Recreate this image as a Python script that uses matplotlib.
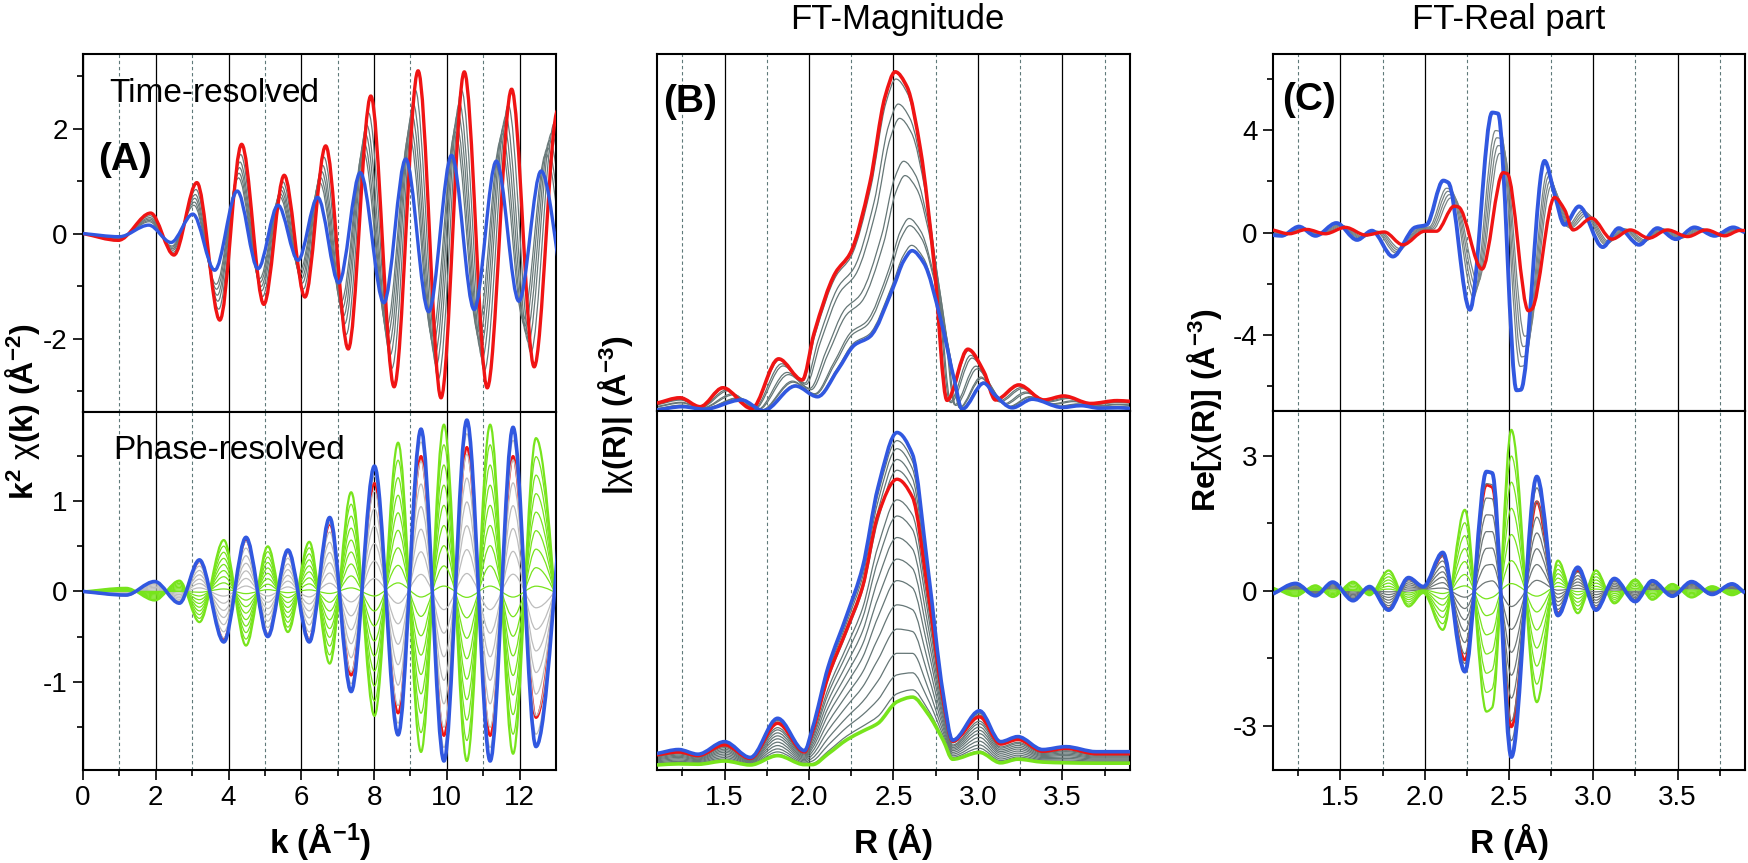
import numpy as np
import matplotlib
matplotlib.use("Agg")
import matplotlib.pyplot as plt
from matplotlib.path import Path
from matplotlib.patches import PathPatch

plt.rcParams['font.family'] = ['Liberation Sans', 'DejaVu Sans']
plt.rcParams['mathtext.fontset'] = 'custom'
plt.rcParams['mathtext.rm'] = 'Liberation Sans'
plt.rcParams['mathtext.bf'] = 'Liberation Sans:bold'
plt.rcParams['mathtext.it'] = 'Liberation Sans:italic'
plt.rcParams['axes.unicode_minus'] = False

RED = '#f01414'
BLUE = '#3158e0'
GREEN = '#77e41c'

# ---- (A) time-resolved k^2 chi(k): extrema ----
a_red_k = [0, 0.97, 1.86, 2.50, 3.13, 3.76, 4.36, 4.97, 5.53, 6.10, 6.67, 7.29,
           7.91, 8.55, 9.21, 9.84, 10.48, 11.11, 11.78, 12.40, 13.05, 13.68]
a_red_v = [0, -0.13, 0.39, -0.41, 0.97, -1.65, 1.70, -1.35, 1.11, -1.21, 1.67, -2.20,
           2.62, -2.92, 3.10, -3.13, 3.08, -2.94, 2.75, -2.54, 2.35, -2.30]
a_blue_k = [0, 1.0, 1.81, 2.42, 3.02, 3.62, 4.24, 4.81, 5.36, 5.91, 6.45, 7.03,
            7.62, 8.27, 8.87, 9.50, 10.13, 10.75, 11.36, 11.98, 12.59, 13.2]
a_blue_v = [0, -0.06, 0.16, -0.17, 0.37, -0.70, 0.81, -0.67, 0.54, -0.51, 0.69, -0.94,
            1.16, -1.32, 1.42, -1.49, 1.49, -1.45, 1.38, -1.29, 1.19, -1.15]
a_gray_w = [0.78, 0.62, 0.50, 0.38, 0.28]   # position of grey curves between blue and red

# ---- (A) phase-resolved ----
ap_k = [0, 1.18, 1.97, 2.65, 3.20, 3.87, 4.48, 5.08, 5.63, 6.22, 6.78, 7.37,
        8.01, 8.66, 9.29, 9.92, 10.55, 11.19, 11.82, 12.45, 13.3]
ap_blue = [0, -0.04, 0.11, -0.13, 0.35, -0.56, 0.60, -0.50, 0.46, -0.56, 0.82, -1.11,
           1.39, -1.59, 1.80, -1.88, 1.90, -1.88, 1.82, -1.72, 1.70]
ap_red = [0, -0.04, 0.10, -0.12, 0.33, -0.53, 0.57, -0.48, 0.44, -0.53, 0.75, -0.93,
          1.20, -1.35, 1.50, -1.60, 1.60, -1.60, 1.50, -1.40, 1.45]
ap_green = [0, 0.04, -0.10, 0.12, -0.34, 0.57, -0.60, 0.50, -0.45, 0.55, -0.80, 1.10,
            -1.38, 1.65, -1.78, 1.85, -1.88, 1.85, -1.80, 1.70, -1.70]
ap_green_w = [1.0, 0.94, 0.88, 0.82, 0.76, 0.70, 0.64, 0.58, 0.52]
ap_gray_w = [0.45, 0.38, 0.31, 0.24, 0.17, 0.10, 0.04]

# ---- (B) |chi(R)|, time-resolved ----
b_red_r = [1.10, 1.236, 1.355, 1.49, 1.66, 1.82, 1.96, 2.03, 2.155, 2.244, 2.36, 2.45, 2.51,
           2.58, 2.66, 2.74, 2.817, 2.94, 3.035, 3.104, 3.242, 3.39, 3.508, 3.667, 3.825, 3.90]
b_red_v = [0.22, 0.37, 0.12, 0.65, 0.07, 1.46, 0.87, 2.18, 3.86, 4.42, 6.38, 8.80, 9.50,
           9.08, 7.31, 4.14, 0.30, 1.73, 1.10, 0.31, 0.73, 0.31, 0.42, 0.21, 0.29, 0.27]
b_blue_r = [1.10, 1.25, 1.38, 1.60, 1.73, 1.92, 2.05, 2.17, 2.27, 2.36, 2.50, 2.56, 2.61,
            2.68, 2.78, 2.86, 2.906, 3.035, 3.10, 3.203, 3.321, 3.499, 3.61, 3.72, 3.83, 3.90]
b_blue_v = [0.03, 0.12, 0.05, 0.31, 0.01, 0.70, 0.40, 1.15, 1.85, 2.08, 3.48, 4.20, 4.49,
            4.14, 2.55, 0.87, 0.05, 0.78, 0.45, 0.09, 0.33, 0.10, 0.15, 0.08, 0.09, 0.07]
b_gray_w = [0.04, 0.18, 0.26, 0.50, 0.58, 0.82, 0.86, 0.97]

# ---- (B) |chi(R)|, phase-resolved ----
bp_r = [1.10, 1.228, 1.342, 1.50, 1.652, 1.814, 1.973, 2.02, 2.113, 2.226, 2.317, 2.408,
        2.521, 2.612, 2.703, 2.794, 2.85, 3.009, 3.134, 3.236, 3.383, 3.52, 3.70, 3.90]
bp_blue = [0.46, 0.57, 0.44, 0.79, 0.35, 1.44, 0.54, 1.16, 2.87, 4.35, 5.65, 7.87,
           9.40, 8.80, 5.65, 2.13, 0.83, 1.65, 0.79, 0.93, 0.57, 0.65, 0.51, 0.51]
bp_red = [0.42, 0.50, 0.40, 0.70, 0.32, 1.30, 0.50, 1.05, 2.60, 3.95, 5.10, 7.10,
          8.10, 7.60, 5.00, 1.95, 0.80, 1.48, 0.72, 0.85, 0.52, 0.60, 0.45, 0.45]
bp_green = [0.14, 0.17, 0.16, 0.25, 0.14, 0.40, 0.15, 0.15, 0.45, 0.85, 1.08, 1.30,
            1.90, 2.03, 1.57, 0.83, 0.30, 0.49, 0.20, 0.30, 0.22, 0.20, 0.19, 0.19]
bp_gray_w = [0.97, 0.94, 0.90, 0.86, 0.75, 0.69, 0.61, 0.53, 0.45, 0.36, 0.27, 0.18, 0.10, 0.03]

# ---- (C) Re[chi(R)], time-resolved ----
c_blue_r = [1.10, 1.15, 1.254, 1.352, 1.476, 1.599, 1.687, 1.811, 1.943, 2.011, 2.110, 2.140,
            2.268, 2.400, 2.435, 2.545, 2.570, 2.711, 2.770, 2.829, 2.915, 3.056, 3.151,
            3.272, 3.380, 3.490, 3.600, 3.720, 3.830, 3.90]
c_blue_v = [-0.10, -0.13, 0.23, -0.13, 0.37, -0.29, 0.07, -0.94, 0.20, 0.30, 2.03, 1.95,
            -3.02, 4.69, 4.65, -6.17, -6.15, 2.80, 1.50, 0.30, 1.02, -0.57, 0.17,
            -0.48, 0.17, -0.26, 0.20, -0.13, 0.20, 0.0]
c_red_r = [1.10, 1.195, 1.30, 1.41, 1.53, 1.65, 1.76, 1.87, 2.00, 2.07, 2.175, 2.20,
           2.34, 2.465, 2.49, 2.615, 2.635, 2.77, 2.83, 2.88, 2.99, 3.11, 3.22,
           3.33, 3.44, 3.56, 3.67, 3.78, 3.87, 3.90]
c_red_v = [0.10, -0.05, 0.12, -0.05, 0.20, -0.10, 0.02, -0.48, 0.05, 0.05, 1.03, 1.00,
           -1.43, 2.34, 2.30, -3.06, -3.00, 1.37, 0.89, 0.10, 0.56, -0.26, 0.10,
           -0.22, 0.10, -0.16, 0.10, -0.13, 0.08, 0.08]
c_gray_w = [0.30, 0.42, 0.55, 0.68]

# ---- (C) Re[chi(R)], phase-resolved ----
cp_r = [1.10, 1.234, 1.352, 1.454, 1.575, 1.673, 1.786, 1.904, 1.992, 2.107, 2.238, 2.366,
        2.40, 2.514, 2.665, 2.79, 2.908, 3.016, 3.125, 3.249, 3.35, 3.469, 3.583, 3.705,
        3.823, 3.90]
cp_blue = [-0.07, 0.16, -0.11, 0.19, -0.22, 0.09, -0.43, 0.29, 0.09, 0.85, -1.80, 2.65,
           2.62, -3.70, 2.54, -0.55, 0.52, -0.43, 0.27, -0.24, 0.22, -0.12, 0.20, -0.08,
           0.15, -0.05]
cp_red = [-0.07, 0.15, -0.10, 0.18, -0.20, 0.08, -0.40, 0.27, 0.08, 0.78, -1.54, 2.35,
          2.30, -3.03, 1.98, -0.50, 0.45, -0.40, 0.25, -0.22, 0.20, -0.11, 0.18, -0.08,
          0.14, -0.05]
cp_green = [0.07, -0.12, 0.12, -0.14, 0.20, -0.10, 0.45, -0.35, -0.05, -0.87, 1.80, -2.69,
            -2.60, 3.58, -2.48, 0.67, -0.50, 0.45, -0.28, 0.25, -0.20, 0.15, -0.15, 0.10,
            -0.10, 0.03]
cp_green_w = [1.0, 0.92, 0.84, 0.76, 0.68, 0.60, 0.53]
cp_gray_w = [0.46, 0.39, 0.32, 0.25, 0.18, 0.11, 0.05]

k_major = [0, 2, 4, 6, 8, 10, 12]
k_minor = [1, 3, 5, 7, 9, 11]
r_major = [1.5, 2.0, 2.5, 3.0, 3.5]
r_minor = [1.25, 1.75, 2.25, 2.75, 3.25, 3.75]
r_labels = ['1.5', '2.0', '2.5', '3.0', '3.5']


def smooth(ax, x, y, color, lw, zorder=2):
    # monotone cubic through the read points, drawn as a Bezier path
    x = np.asarray(x, float)
    y = np.asarray(y, float)
    h = np.diff(x)
    d = np.diff(y) / h
    m = np.zeros_like(x)
    m[0], m[-1] = d[0], d[-1]
    for i in range(1, len(x) - 1):
        if d[i - 1] * d[i] > 0:
            w1 = 2 * h[i] + h[i - 1]
            w2 = h[i] + 2 * h[i - 1]
            m[i] = (w1 + w2) / (w1 / d[i - 1] + w2 / d[i])
    verts = [(x[0], y[0])]
    for i in range(len(x) - 1):
        verts += [(x[i] + h[i] / 3, y[i] + m[i] * h[i] / 3),
                  (x[i + 1] - h[i] / 3, y[i + 1] - m[i + 1] * h[i] / 3),
                  (x[i + 1], y[i + 1])]
    codes = [Path.MOVETO] + [Path.CURVE4] * (len(verts) - 1)
    ax.add_patch(PathPatch(Path(verts, codes), fill=False, edgecolor=color,
                           linewidth=lw, zorder=zorder, joinstyle='round'))


def mix(a, b, w):
    return (1 - w) * np.asarray(a, float) + w * np.asarray(b, float)


def style(ax, xmaj, xmin, xlim, ylim, bottom, xlabels=None):
    ax.set_xlim(*xlim)
    ax.set_ylim(*ylim)
    ax.set_xticks(xmaj)
    if xlabels is not None:
        ax.set_xticklabels(xlabels)
    ax.set_xticks(xmin, minor=True)
    ax.set_axisbelow(True)
    ax.grid(axis='x', which='major', color='black', lw=0.9)
    ax.grid(axis='x', which='minor', color='#5f7a7a', lw=0.8, ls=(0, (3, 2.5)))
    ax.tick_params(which='both', direction='out', top=False, right=False,
                   labelsize=20, width=1.2, pad=4)
    ax.tick_params(which='major', length=7)
    ax.tick_params(which='minor', length=4)
    if not bottom:
        ax.tick_params(axis='x', which='both', length=0, labelbottom=False)
    for s in ax.spines.values():
        s.set_linewidth(1.5)


W, H = 1749, 863
fig = plt.figure(figsize=(W / 100, H / 100), dpi=100)


def add_ax(x0, y0, x1, y1):
    return fig.add_axes([x0 / W, 1 - y1 / H, (x1 - x0) / W, (y1 - y0) / H])


def ftext(x, y, s, **kw):
    fig.text(x / W, 1 - y / H, s, **kw)


axA1 = add_ax(83, 54, 556, 412)
axA2 = add_ax(83, 412, 556, 770)
axB1 = add_ax(657, 54, 1130, 411)
axB2 = add_ax(657, 411, 1130, 770)
axC1 = add_ax(1273, 54, 1745, 411)
axC2 = add_ax(1273, 411, 1745, 770)

# (A) top
for w in a_gray_w:
    smooth(axA1, mix(a_blue_k, a_red_k, w), mix(a_blue_v, a_red_v, w), '#6a7a7a', 0.9)
smooth(axA1, a_red_k, a_red_v, RED, 2.4, 3)
smooth(axA1, a_blue_k, a_blue_v, BLUE, 2.4, 4)
style(axA1, k_major, k_minor, (0, 13), (-3.4, 3.42), False)
axA1.set_yticks([-2, 0, 2])
axA1.set_yticks([-3, -1, 1, 3], minor=True)

# (A) bottom
smooth(axA2, ap_k, ap_red, RED, 1.8, 2)
for w in ap_gray_w:
    smooth(axA2, ap_k, mix(ap_blue, ap_green, w), '#bdbdbd', 0.9, 2)
for w in ap_green_w:
    smooth(axA2, ap_k, mix(ap_blue, ap_green, w), GREEN, 1.6 if w == 1.0 else 0.9, 2)
smooth(axA2, ap_k, ap_blue, BLUE, 2.6, 4)
style(axA2, k_major, k_minor, (0, 13), (-1.98, 1.99), True)
axA2.set_yticks([-1, 0, 1])
axA2.set_yticks([-1.5, -0.5, 0.5, 1.5], minor=True)

# (B) top
for w in b_gray_w:
    smooth(axB1, mix(b_red_r, b_blue_r, w), mix(b_red_v, b_blue_v, w), '#667777', 0.9)
smooth(axB1, b_red_r, b_red_v, RED, 2.6, 3)
smooth(axB1, b_blue_r, b_blue_v, BLUE, 2.6, 4)
style(axB1, r_major, r_minor, (1.1, 3.9), (0, 10), False)
axB1.set_yticks([])

# (B) bottom
for w in bp_gray_w:
    smooth(axB2, bp_r, mix(bp_green, bp_blue, w), '#667777', 0.9)
smooth(axB2, bp_r, bp_green, GREEN, 2.6, 3)
smooth(axB2, bp_r, bp_red, RED, 2.4, 3)
smooth(axB2, bp_r, bp_blue, BLUE, 2.6, 4)
style(axB2, r_major, r_minor, (1.1, 3.9), (0, 10), True, r_labels)
axB2.set_yticks([])

# (C) top
for w in c_gray_w:
    smooth(axC1, mix(c_blue_r, c_red_r, w), mix(c_blue_v, c_red_v, w), '#7a8585', 0.9)
smooth(axC1, c_blue_r, c_blue_v, BLUE, 2.8, 3)
smooth(axC1, c_red_r, c_red_v, RED, 2.4, 4)
style(axC1, r_major, r_minor, (1.1, 3.9), (-6.98, 6.98), False)
axC1.set_yticks([-4, 0, 4])
axC1.set_yticks([-6, -2, 2, 6], minor=True)

# (C) bottom
smooth(axC2, cp_r, cp_red, RED, 2.0, 2)
for w in cp_gray_w:
    smooth(axC2, cp_r, mix(cp_blue, cp_green, w), '#6f7777', 0.9, 2)
for w in cp_green_w:
    smooth(axC2, cp_r, mix(cp_blue, cp_green, w), GREEN, 1.6 if w == 1.0 else 0.9, 2)
smooth(axC2, cp_r, cp_blue, BLUE, 2.8, 4)
style(axC2, r_major, r_minor, (1.1, 3.9), (-3.99, 4.0), True, r_labels)
axC2.set_yticks([-3, 0, 3])
axC2.set_yticks([-1.5, 1.5], minor=True)

# texts
ftext(897, 29, 'FT-Magnitude', fontsize=25, ha='center', va='baseline')
ftext(1509, 29, 'FT-Real part', fontsize=25, ha='center', va='baseline')
ftext(109, 102, 'Time-resolved', fontsize=24, va='baseline')
ftext(113, 459, 'Phase-resolved', fontsize=24, va='baseline')
ftext(98, 170, '(A)', fontsize=28, fontweight='bold', va='baseline')
ftext(663, 112, '(B)', fontsize=28, fontweight='bold', va='baseline')
ftext(1282, 110, '(C)', fontsize=28, fontweight='bold', va='baseline')

ftext(320, 853, r'$\mathbf{k\ (Å^{-1})}$', fontsize=24, ha='center', va='baseline')
ftext(893, 853, r'$\mathbf{R\ (Å)}$', fontsize=24, ha='center', va='baseline')
ftext(1509, 853, r'$\mathbf{R\ (Å)}$', fontsize=24, ha='center', va='baseline')
ftext(23, 412, r'$\mathbf{k^2}\ \mathrm{\chi}\mathbf{(k)\ (Å^{-2})}$', fontsize=23,
      rotation=90, ha='center', va='center')
ftext(616, 415, r'$\mathbf{|}\mathrm{\chi}\mathbf{(R)|\ (Å^{-3})}$', fontsize=23,
      rotation=90, ha='center', va='center')
ftext(1205, 410, r'$\mathbf{Re[}\mathrm{\chi}\mathbf{(R)]\ (Å^{-3})}$', fontsize=23,
      rotation=90, ha='center', va='center')

fig.savefig('out.png', dpi=100)
